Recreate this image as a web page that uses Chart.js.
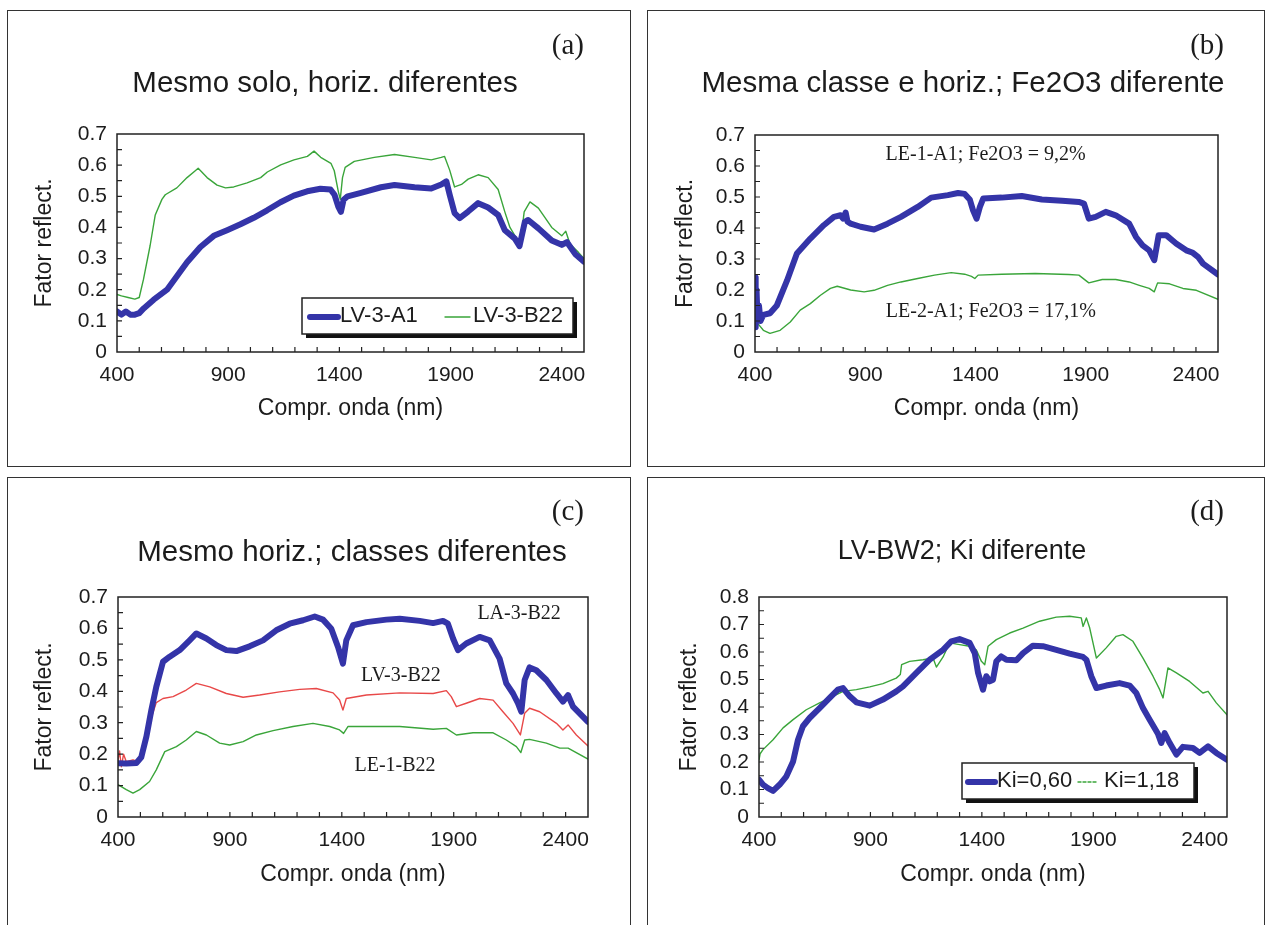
<!DOCTYPE html>
<html>
<head>
<meta charset="utf-8">
<title>Fator de reflectância dos solos</title>
<script src="https://cdn.jsdelivr.net/npm/chart.js"></script>
<style>
	body { margin: 0; background: #fff; width: 1266px; height: 925px; overflow: hidden; position: relative; }
	.panel { position: absolute; border: 1.5px solid #333; box-sizing: border-box; }
	canvas { position: absolute; }
</style>
</head>
<body>
<div class="panel" style="left:7px;top:10px;width:624px;height:457px"></div>
<div class="panel" style="left:647px;top:10px;width:618px;height:457px"></div>
<div class="panel" style="left:7px;top:477px;width:624px;height:460px"></div>
<div class="panel" style="left:647px;top:477px;width:618px;height:460px"></div>
<canvas id="chart-a"></canvas>
<canvas id="chart-b"></canvas>
<canvas id="chart-c"></canvas>
<canvas id="chart-d"></canvas>
<script>
	// eixo x (nm) e eixo y (fator de reflectância)
	const xTickValues = [400, 900, 1400, 1900, 2400];
	const yTicks07 = [0, 0.1, 0.2, 0.3, 0.4, 0.5, 0.6, 0.7];
	const yTicks08 = [0, 0.1, 0.2, 0.3, 0.4, 0.5, 0.6, 0.7, 0.8];

	// (a) mesmo solo, horizontes diferentes  [nm, fator]
	const lv3A1 = [[400,0.13],[420,0.12],[440,0.13],[460,0.12],[480,0.12],[500,0.125],[520,0.14],[565,0.168],[625,0.2],[670,0.244],[715,0.288],[775,0.337],[835,0.373],[895,0.391],[955,0.41],[1015,0.431],[1075,0.455],[1135,0.481],[1195,0.502],[1255,0.516],[1315,0.524],[1360,0.522],[1378,0.505],[1395,0.467],[1407,0.45],[1419,0.489],[1437,0.5],[1497,0.511],[1587,0.529],[1648,0.536],[1738,0.529],[1813,0.525],[1858,0.538],[1881,0.548],[1896,0.505],[1918,0.446],[1941,0.43],[1979,0.451],[2024,0.478],[2069,0.464],[2114,0.44],[2144,0.391],[2189,0.364],[2210,0.34],[2234,0.418],[2249,0.424],[2295,0.397],[2355,0.358],[2400,0.344],[2423,0.353],[2460,0.315],[2500,0.29]];
	const lv3B22a = [[400,0.185],[420,0.18],[450,0.175],[480,0.17],[500,0.175],[519,0.233],[549,0.342],[572,0.44],[602,0.49],[617,0.505],[669,0.527],[715,0.56],[752,0.582],[765,0.59],[805,0.56],[850,0.536],[888,0.527],[925,0.53],[985,0.543],[1046,0.56],[1076,0.578],[1136,0.601],[1196,0.617],[1256,0.628],[1286,0.645],[1316,0.625],[1362,0.606],[1377,0.582],[1395,0.516],[1404,0.49],[1414,0.56],[1426,0.593],[1467,0.612],[1557,0.625],[1648,0.634],[1738,0.625],[1813,0.617],[1858,0.625],[1873,0.628],[1896,0.584],[1918,0.53],[1949,0.538],[1979,0.555],[2024,0.569],[2069,0.56],[2114,0.522],[2144,0.45],[2167,0.4],[2197,0.364],[2212,0.34],[2231,0.45],[2257,0.482],[2295,0.462],[2355,0.4],[2400,0.373],[2418,0.388],[2437,0.347],[2475,0.32],[2500,0.3]];

	// (b) mesma classe e horizonte, Fe2O3 diferente
	const le1A1 = [[400,0.24],[403,0.08],[407,0.2],[412,0.1],[418,0.15],[425,0.1],[438,0.12],[468,0.125],[499,0.15],[545,0.23],[590,0.318],[651,0.366],[712,0.409],[758,0.436],[788,0.441],[800,0.43],[811,0.45],[820,0.42],[834,0.414],[879,0.404],[940,0.395],[1001,0.414],[1062,0.436],[1138,0.468],[1199,0.498],[1275,0.506],[1321,0.513],[1351,0.51],[1374,0.492],[1389,0.457],[1405,0.43],[1420,0.468],[1435,0.495],[1519,0.498],[1610,0.503],[1701,0.492],[1793,0.488],[1869,0.484],[1892,0.479],[1914,0.43],[1945,0.436],[1991,0.452],[2036,0.441],[2097,0.414],[2128,0.371],[2158,0.344],[2188,0.328],[2211,0.296],[2231,0.377],[2265,0.377],[2310,0.35],[2356,0.328],[2386,0.32],[2409,0.307],[2432,0.285],[2500,0.25]];
	const le2A1 = [[400,0.08],[405,0.1],[415,0.09],[438,0.07],[468,0.06],[514,0.07],[560,0.097],[605,0.135],[651,0.156],[697,0.183],[742,0.205],[773,0.212],[834,0.2],[895,0.194],[940,0.199],[1001,0.215],[1062,0.226],[1138,0.237],[1214,0.248],[1290,0.256],[1351,0.251],[1382,0.244],[1397,0.237],[1412,0.248],[1519,0.251],[1671,0.253],[1823,0.25],[1869,0.248],[1914,0.223],[1975,0.234],[2036,0.234],[2097,0.226],[2143,0.215],[2188,0.205],[2211,0.194],[2226,0.223],[2280,0.22],[2341,0.205],[2402,0.199],[2500,0.17]];

	// (c) mesmo horizonte, classes diferentes
	const la3B22 = [[400,0.171],[437,0.17],[482,0.172],[504,0.19],[527,0.256],[549,0.34],[571,0.414],[601,0.494],[631,0.51],[676,0.531],[720,0.562],[750,0.584],[795,0.568],[839,0.547],[884,0.531],[929,0.528],[988,0.543],[1048,0.562],[1107,0.594],[1167,0.615],[1227,0.626],[1279,0.638],[1316,0.628],[1353,0.599],[1383,0.541],[1405,0.488],[1420,0.562],[1450,0.61],[1510,0.62],[1599,0.628],[1659,0.631],[1748,0.624],[1808,0.617],[1852,0.624],[1874,0.615],[1897,0.568],[1919,0.531],[1956,0.552],[2016,0.573],[2061,0.562],[2105,0.504],[2135,0.425],[2165,0.393],[2187,0.362],[2202,0.335],[2217,0.436],[2239,0.476],[2269,0.467],[2314,0.436],[2359,0.393],[2388,0.367],[2411,0.388],[2433,0.351],[2500,0.303]];
	const lv3B22c = [[400,0.18],[407,0.21],[415,0.16],[425,0.2],[437,0.176],[467,0.182],[489,0.177],[512,0.21],[541,0.298],[571,0.364],[601,0.377],[646,0.383],[705,0.404],[750,0.425],[810,0.414],[884,0.393],[959,0.381],[1033,0.388],[1122,0.398],[1212,0.406],[1286,0.409],[1361,0.395],[1390,0.372],[1405,0.34],[1420,0.377],[1510,0.388],[1659,0.395],[1808,0.393],[1867,0.402],[1889,0.383],[1912,0.351],[1956,0.362],[2016,0.377],[2076,0.372],[2120,0.335],[2165,0.298],[2198,0.261],[2217,0.33],[2239,0.346],[2284,0.335],[2359,0.298],[2388,0.277],[2411,0.293],[2448,0.261],[2500,0.226]];
	const le1B22 = [[400,0.103],[437,0.087],[467,0.076],[497,0.087],[541,0.113],[571,0.15],[609,0.208],[661,0.224],[705,0.245],[750,0.272],[795,0.261],[854,0.235],[899,0.229],[959,0.24],[1018,0.261],[1093,0.275],[1182,0.288],[1271,0.298],[1346,0.288],[1390,0.277],[1408,0.266],[1428,0.288],[1539,0.288],[1659,0.288],[1808,0.279],[1867,0.282],[1912,0.261],[1986,0.268],[2076,0.268],[2135,0.245],[2180,0.224],[2200,0.205],[2217,0.245],[2239,0.247],[2314,0.235],[2374,0.219],[2411,0.219],[2500,0.184]];

	// (d) LV-BW2, Ki diferente
	const ki060 = [[400,0.136],[418,0.118],[440,0.105],[463,0.095],[493,0.118],[523,0.148],[553,0.202],[575,0.281],[597,0.33],[627,0.36],[672,0.396],[717,0.433],[754,0.463],[777,0.469],[807,0.439],[837,0.417],[897,0.405],[956,0.427],[1016,0.457],[1046,0.475],[1106,0.524],[1166,0.572],[1226,0.608],[1263,0.639],[1300,0.647],[1345,0.633],[1368,0.596],[1383,0.524],[1405,0.463],[1420,0.512],[1435,0.493],[1450,0.499],[1465,0.566],[1487,0.584],[1510,0.572],[1555,0.57],[1585,0.596],[1629,0.623],[1674,0.621],[1734,0.608],[1794,0.594],[1854,0.582],[1869,0.572],[1891,0.512],[1914,0.469],[1958,0.478],[2018,0.487],[2063,0.478],[2093,0.451],[2123,0.396],[2153,0.354],[2190,0.303],[2205,0.269],[2220,0.305],[2243,0.269],[2273,0.227],[2302,0.255],[2347,0.251],[2377,0.233],[2415,0.257],[2452,0.233],[2500,0.208]];
	const ki118 = [[400,0.208],[405,0.23],[418,0.245],[463,0.281],[508,0.324],[553,0.354],[612,0.39],[672,0.415],[732,0.439],[777,0.457],[837,0.463],[897,0.473],[956,0.485],[1016,0.505],[1034,0.518],[1040,0.554],[1076,0.566],[1136,0.572],[1181,0.578],[1196,0.545],[1226,0.582],[1255,0.633],[1300,0.627],[1345,0.621],[1375,0.608],[1398,0.566],[1413,0.554],[1428,0.621],[1465,0.645],[1525,0.669],[1585,0.687],[1659,0.712],[1734,0.727],[1794,0.73],[1846,0.724],[1854,0.693],[1869,0.724],[1884,0.687],[1914,0.578],[1958,0.615],[2003,0.657],[2033,0.663],[2078,0.639],[2123,0.578],[2168,0.512],[2198,0.463],[2213,0.433],[2235,0.542],[2273,0.524],[2332,0.493],[2392,0.451],[2415,0.457],[2452,0.415],[2500,0.372]];

	const BLUE = '#3434a8', GREEN = '#3aa53a', RED = '#e84848';
	const SANS = 'Arial, "Liberation Sans", sans-serif';
	const SERIF = '"Times New Roman", "Liberation Serif", serif';
	const INK = '#1c1c1c';
	const TICK_SIZE = 21, AXIS_TITLE_SIZE = 23;

	const thick = (label, points) => ({ label, points, color: BLUE, width: 6 });
	const thin = (label, points, color) => ({ label, points, color, width: 1.4 });

	// page layout: box = canvas [x, y, w, h], plot = chart area [left, top, right, bottom]
	const specs = {
		'chart-a': {
			box: [8, 11, 622, 455], plot: [117, 134, 584, 352], yTicks: yTicks07, yMax: 0.7,
			xLabelY: 375, xTitleY: 409, yTitleX: 45,
			title: { text: 'Mesmo solo, horiz. diferentes', x: 325, y: 84, size: 29.5 },
			tag: { text: '(a)', x: 584, y: 46 },
			series: [thick('LV-3-A1', lv3A1), thin('LV-3-B22', lv3B22a, GREEN)],
			legend: { right: 11, bottom: 18, w: 271, h: 36, items: [[8, 36, 38], [143, 168, 171]] }
		},
		'chart-b': {
			box: [648, 11, 618, 455], plot: [755, 135, 1218, 352], yTicks: yTicks07, yMax: 0.7,
			xLabelY: 375, xTitleY: 409, yTitleX: 686,
			title: { text: 'Mesma classe e horiz.; Fe2O3 diferente', x: 963, y: 84, size: 29.5 },
			tag: { text: '(b)', x: 1224, y: 46 },
			series: [thick('LE-1-A1', le1A1), thin('LE-2-A1', le2A1, GREEN)],
			notes: [{ text: 'LE-1-A1; Fe2O3 = 9,2%', x: 1446, y: 0.635 }, { text: 'LE-2-A1; Fe2O3 = 17,1%', x: 1470, y: 0.129 }]
		},
		'chart-c': {
			box: [8, 478, 622, 447], plot: [118, 597, 588, 817], yTicks: yTicks07, yMax: 0.7,
			xLabelY: 840, xTitleY: 875, yTitleX: 45,
			title: { text: 'Mesmo horiz.; classes diferentes', x: 352, y: 553, size: 29.5 },
			tag: { text: '(c)', x: 584, y: 512 },
			series: [thick('LA-3-B22', la3B22), thin('LV-3-B22', lv3B22c, RED), thin('LE-1-B22', le1B22, GREEN)],
			notes: [{ text: 'LA-3-B22', x: 2192, y: 0.648 }, { text: 'LV-3-B22', x: 1664, y: 0.45 }, { text: 'LE-1-B22', x: 1638, y: 0.163 }]
		},
		'chart-d': {
			box: [648, 478, 618, 447], plot: [759, 597, 1227, 817], yTicks: yTicks08, yMax: 0.8,
			xLabelY: 840, xTitleY: 875, yTitleX: 690,
			title: { text: 'LV-BW2; Ki diferente', x: 962, y: 552, size: 27 },
			tag: { text: '(d)', x: 1224, y: 512 },
			series: [thick('Ki=0,60', ki060), thin('Ki=1,18', ki118, GREEN)],
			legend: { right: 33, bottom: 18, w: 232, h: 36, dashed: true, items: [[6, 33, 35], [116, 134, 142]] }
		}
	};

	function decorPlugin(spec) {
		const [bx, by] = spec.box;
		return {
			id: 'decor',
			afterDraw(chart) {
				const { ctx, chartArea: a, scales: { x, y } } = chart;
				ctx.save();
				// moldura da área do gráfico
				ctx.strokeStyle = '#222';
				ctx.lineWidth = 1.5;
				ctx.strokeRect(a.left, a.top, a.right - a.left, a.bottom - a.top);
				// marcas internas
				ctx.lineWidth = 1.2;
				ctx.beginPath();
				for (let v = 500; v < 2500; v += 100) {
					const px = x.getPixelForValue(v);
					ctx.moveTo(px, a.bottom);
					ctx.lineTo(px, a.bottom - 5);
				}
				for (let i = 1; i < spec.yMax * 20; i++) {
					const py = y.getPixelForValue(i / 20);
					ctx.moveTo(a.left, py);
					ctx.lineTo(a.left + 5, py);
				}
				ctx.stroke();

				ctx.fillStyle = INK;
				ctx.textBaseline = 'middle';
				ctx.textAlign = 'center';
				ctx.font = spec.title.size + 'px ' + SANS;
				ctx.fillText(spec.title.text, spec.title.x - bx, spec.title.y - by);
				ctx.textAlign = 'right';
				ctx.font = '29px ' + SERIF;
				ctx.fillText(spec.tag.text, spec.tag.x - bx, spec.tag.y - by);

				(spec.notes || []).forEach(n => {
					ctx.textAlign = 'center';
					ctx.font = '20px ' + SERIF;
					ctx.fillText(n.text, x.getPixelForValue(n.x), y.getPixelForValue(n.y));
				});

				const L = spec.legend;
				if (L) {
					const left = a.right - L.right - L.w, top = a.bottom - L.bottom - L.h;
					ctx.fillStyle = '#111';
					ctx.fillRect(left + 4, top + 4, L.w, L.h);
					ctx.fillStyle = '#fff';
					ctx.fillRect(left, top, L.w, L.h);
					ctx.strokeStyle = '#222';
					ctx.lineWidth = 1.5;
					ctx.strokeRect(left, top, L.w, L.h);
					const cy = top + L.h / 2;
					L.items.forEach(([s0, s1, tx], i) => {
						const ds = chart.data.datasets[i];
						ctx.strokeStyle = ds.borderColor;
						ctx.lineWidth = ds.borderWidth;
						ctx.lineCap = 'round';
						ctx.setLineDash(L.dashed && i > 0 ? [3, 2] : []);
						ctx.beginPath();
						ctx.moveTo(left + s0, cy + 1);
						ctx.lineTo(left + s1, cy + 1);
						ctx.stroke();
						ctx.setLineDash([]);
						ctx.fillStyle = INK;
						ctx.textAlign = 'left';
						ctx.font = '22px ' + SANS;
						ctx.fillText(ds.label, left + tx, cy);
					});
				}
				ctx.restore();
			}
		};
	}

	function makeChart(id, spec) {
		const [bx, by, bw, bh] = spec.box;
		const [pl, pt, pr, pb] = spec.plot;
		const canvas = document.getElementById(id);
		canvas.width = bw;
		canvas.height = bh;
		canvas.style.left = bx + 'px';
		canvas.style.top = by + 'px';

		// Chart.js counts the tick padding twice in the height of a horizontal axis
		const tickLH = TICK_SIZE * 1.2, titleLH = AXIS_TITLE_SIZE * 1.2;
		const tickPad = spec.xLabelY - pb - tickLH / 2;
		const axisBottom = spec.xTitleY - by + titleLH / 2;
		const xTitlePad = axisBottom - (pb - by) - tickLH - 2 * tickPad - titleLH;
		const tickFont = { family: SANS, size: TICK_SIZE };
		const titleFont = { family: SANS, size: AXIS_TITLE_SIZE };

		new Chart(canvas, {
			type: 'line',
			data: {
				datasets: spec.series.map(s => ({
					label: s.label,
					data: s.points.map(([nm, r]) => ({ x: nm, y: r })),
					borderColor: s.color,
					borderWidth: s.width,
					pointRadius: 0,
					tension: 0,
					fill: false,
					borderJoinStyle: 'round',
					borderCapStyle: 'round'
				}))
			},
			options: {
				responsive: false,
				animation: false,
				devicePixelRatio: 1,
				layout: { padding: { top: pt - by, right: bx + bw - pr, bottom: bh - axisBottom, left: 0 } },
				plugins: { legend: { display: false }, title: { display: false }, tooltip: { enabled: false } },
				scales: {
					x: {
						type: 'linear', min: 400, max: 2500,
						afterBuildTicks: s => { s.ticks = xTickValues.map(v => ({ value: v })); },
						grid: { display: false, drawTicks: false },
						border: { display: false },
						ticks: { padding: tickPad, font: tickFont, color: INK, maxRotation: 0, autoSkip: false, callback: v => String(v) },
						title: { display: true, text: 'Compr. onda (nm)', font: titleFont, color: INK, padding: { top: xTitlePad, bottom: 0 } }
					},
					y: {
						type: 'linear', min: 0, max: spec.yMax,
						afterBuildTicks: s => { s.ticks = spec.yTicks.map(v => ({ value: v })); },
						afterFit: s => { s.width = pl - bx; },
						grid: { display: false, drawTicks: false },
						border: { display: false },
						ticks: { padding: 10, font: tickFont, color: INK, autoSkip: false, callback: v => String(v) },
						title: { display: true, text: 'Fator reflect.', font: titleFont, color: INK, padding: { top: spec.yTitleX - bx - titleLH / 2, bottom: 0 } }
					}
				}
			},
			plugins: [decorPlugin(spec)]
		});
	}

	Object.keys(specs).forEach(id => makeChart(id, specs[id]));
</script>
</body>
</html>
